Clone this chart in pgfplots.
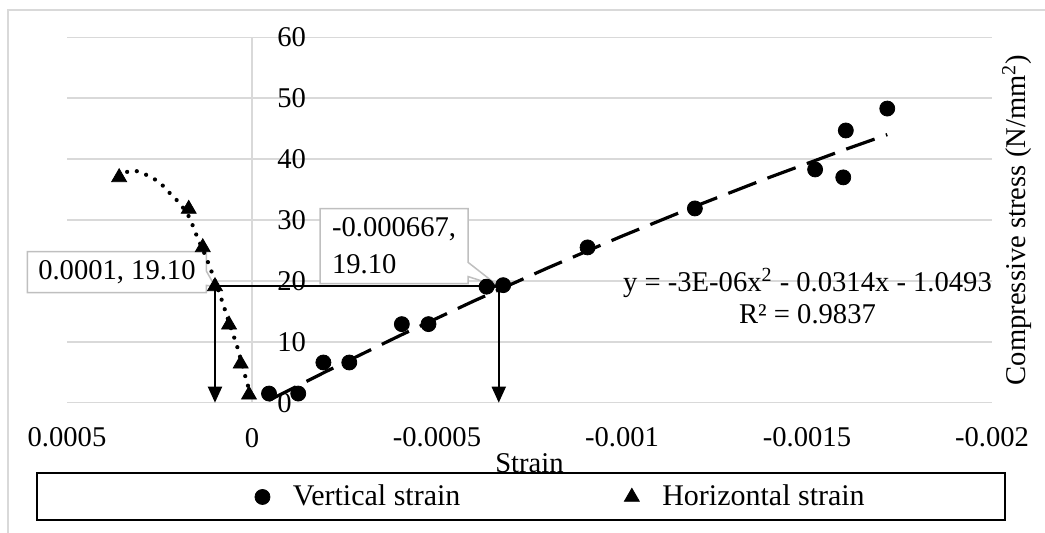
\documentclass[border=0pt]{standalone}
\usepackage{fontspec}
\setmainfont{Liberation Serif}
\usepackage{pgfplots}
\pgfplotsset{compat=1.18}
\usetikzlibrary{arrows.meta,shapes.callouts}
\definecolor{gridgray}{HTML}{D9D9D9}
\definecolor{boxgray}{HTML}{BFBFBF}
\begin{document}
\begin{tikzpicture}[font=\fontsize{14.3}{17}\selectfont]
\useasboundingbox (-33.5pt,-65.15pt) rectangle (489pt,201.35pt);
\draw[gridgray, line width=0.75pt] (-29.5pt,-70pt) -- (-29.5pt,196.35pt) -- (495pt,196.35pt);
\begin{axis}[
  at={(0,0)}, anchor=south west,
  scale only axis, width=462.5pt, height=182.7pt,
  x dir=reverse,
  xmin=-0.002, xmax=0.0005, ymin=0, ymax=60,
  scaled x ticks=false, scaled y ticks=false,
  axis line style={draw=none},
  major tick length=0pt,
  xtick={0.0005,0,-0.0005,-0.001,-0.0015,-0.002},
  xticklabels={0.0005,0,-0.0005,-0.001,-0.0015,-0.002},
  ytick={0,10,20,30,40,50,60},
  yticklabels={0,10,20,30,40,50,60},
  ymajorgrids, grid style={gridgray, line width=0.75pt},
  xticklabel style={anchor=center, inner sep=0pt, yshift=-17.5pt},
  yticklabel style={anchor=west, inner sep=0pt, xshift=105pt},
  xlabel={Strain},
  xlabel style={at={(axis description cs:0.5,0)}, anchor=center, yshift=-30pt},
  ylabel={Compressive stress (N/mm\textsuperscript{2})},
  ylabel style={at={(axis description cs:1,0.5)}, anchor=center, yshift=-12.5pt},
  clip=false,
  legend columns=2,
  legend style={at={(axis description cs:0.535,-0.258)}, anchor=center, draw=none, fill=none,
    font=\fontsize{15}{17}\selectfont,
    /tikz/every odd column/.append style={column sep=9.5pt},
    /tikz/every even column/.append style={column sep=80pt}},
]
\draw[gridgray, line width=0.75pt] (axis cs:0,0) -- (axis cs:0,60);
% callouts
\node[rectangle callout, draw=boxgray, fill=white, line width=0.75pt, minimum width=89.5pt,
  minimum height=20.5pt, inner sep=0pt,
  callout absolute pointer={(axis cs:0.0001,19.1)}] at (axis cs:0.000365,21.46) {0.0001, 19.10};
\node[rectangle callout, draw=boxgray, fill=white, line width=0.75pt, minimum width=74pt,
  minimum height=37.5pt, inner xsep=4.75pt, align=left, font=\fontsize{14.3}{18.5}\selectfont,
  callout absolute pointer={(axis cs:-0.000667,19.1)}] at (axis cs:-0.000384,25.7) {-0.000667,\\19.10};
% arrows
\addplot[black, line width=1pt, -{Triangle[width=7pt,length=8pt]}, forget plot]
  coordinates {(0.0001,19.1) (-0.000667,19.1)};
\addplot[black, line width=1pt, -{Triangle[width=7pt,length=8pt]}, forget plot]
  coordinates {(0.0001,19.1) (0.0001,0)};
\addplot[black, line width=1pt, -{Triangle[width=7pt,length=8pt]}, forget plot]
  coordinates {(-0.000667,19.1) (-0.000667,0)};
% trendlines
\addplot[black, line width=1.6pt, dash pattern=on 15pt off 6pt, forget plot] coordinates {
  (-0.000046,0.389) (-0.0002,5.11) (-0.0004,11.03) (-0.0006,16.71) (-0.0008,22.15)
  (-0.001,27.35) (-0.0012,32.31) (-0.0014,37.03) (-0.0016,41.51) (-0.001717,44.02)};
\addplot[black, line width=2.1pt, line cap=round, dash pattern=on 0pt off 5pt, smooth, forget plot] coordinates {
  (0.00036,37.0) (0.00033,38.1) (0.0003,37.8) (0.000253,36.3) (0.000222,34.4) (0.000195,32.7)
  (0.00017,30.5) (0.00015,27.5) (0.000125,24.0) (0.000103,20.5) (0.000082,16.9)
  (0.00006,12.8) (0.00004,9.2) (0.000023,5.4) (0.00001,2.6)};
% data
\addplot[only marks, mark=*, mark size=3.75pt, black] coordinates {
  (-0.000046,1.5) (-0.000125,1.5) (-0.000193,6.6) (-0.000263,6.6) (-0.000405,12.9)
  (-0.000477,12.9) (-0.000634,19.05) (-0.000679,19.3) (-0.000907,25.5) (-0.001197,31.9)
  (-0.001522,38.3) (-0.001598,37.0) (-0.001605,44.7) (-0.001717,48.3)};
\addlegendentry{Vertical strain}
\addplot[only marks, mark=triangle*, mark size=4.3pt, black] coordinates {
  (0.000359,37.0) (0.000171,31.8) (0.000133,25.5) (0.0001,19.1) (0.000062,12.8)
  (0.0000305,6.4) (0.0000081,1.3)};
\addlegendentry{Horizontal strain}
\node[align=center, font=\fontsize{14.3}{16}\selectfont] at (axis cs:-0.0015014,17.52)
  {y = -3E-06x\textsuperscript{2} - 0.0314x - 1.0493\\R² = 0.9837};
\end{axis}
\draw[black, line width=1pt] (-15pt,-35.15pt) rectangle (469pt,-58.65pt);
\end{tikzpicture}
\end{document}
